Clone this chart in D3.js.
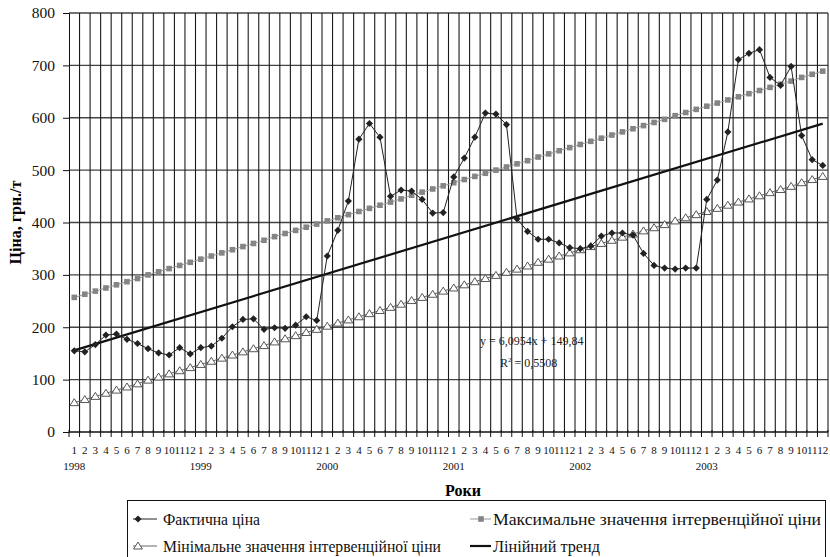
<!DOCTYPE html>
<html>
<head>
<meta charset="utf-8">
<script src="https://cdnjs.cloudflare.com/ajax/libs/d3/7.8.5/d3.min.js"></script>
<style>
body { margin: 0; background: #fff; }
svg { display: block; }
svg text { font-family: 'Liberation Serif', 'DejaVu Serif', serif; }
</style>
</head>
<body>
<div id="chart"></div>
<script>
// DATA
var years = ['1998', '1999', '2000', '2001', '2002', '2003'];
var monthLabels = ['1', '2', '3', '4', '5', '6', '7', '8', '9', '10', '11', '12'];
var yTicks = [0, 100, 200, 300, 400, 500, 600, 700, 800];

// actual price, грн./т
var actual = [
  155, 153, 167, 185, 187, 177, 169, 159, 151, 147, 161, 149,
  161, 164, 179, 201, 215, 216, 196, 199, 198, 204, 220, 213,
  336, 385, 441, 559, 589, 563, 450, 462, 460, 444, 418, 419,
  487, 523, 563, 609, 607, 587, 407, 383, 368, 368, 361, 352,
  350, 355, 374, 380, 380, 376, 341, 318, 313, 311, 313, 313,
  444, 481, 573, 711, 723, 730, 677, 662, 698, 566, 520, 509
];

// maximum intervention price
var maxPrice = [
  257, 263, 269, 275, 281, 287, 293, 300, 306, 312, 318, 324,
  330, 336, 342, 348, 354, 360, 366, 373, 379, 385, 391, 397,
  403, 409, 415, 421, 427, 433, 439, 445, 452, 458, 464, 470,
  476, 482, 488, 494, 500, 506, 512, 518, 525, 531, 537, 543,
  549, 555, 561, 567, 573, 579, 585, 591, 597, 604, 610, 616,
  622, 628, 634, 640, 646, 652, 658, 664, 670, 677, 683, 689
];

// minimum intervention price
var minPrice = [
  56, 62, 68, 74, 80, 86, 92, 99, 105, 111, 117, 123,
  129, 135, 141, 147, 153, 159, 165, 172, 178, 184, 190, 196,
  202, 208, 214, 220, 226, 232, 238, 244, 251, 257, 263, 269,
  275, 281, 287, 293, 299, 305, 311, 317, 324, 330, 336, 342,
  348, 354, 360, 366, 372, 378, 384, 390, 396, 403, 409, 415,
  421, 427, 433, 439, 445, 451, 457, 463, 469, 476, 482, 488
];

// linear trend y = 6,0954x + 149,84 (as printed on the chart)
var trendSlope = 6.0954, trendIntercept = 149.84;

var legendNames = ['Фактична ціна', 'Максимальне значення інтервенційної ціни',
                   'Мінімальне значення інтервенційної ціни', 'Лінійний тренд'];

// SET UP DIMENSIONS
var W = 830, H = 557;
var plot = { left: 69, right: 828, top: 13, bottom: 432 };
var FONT = "'Liberation Serif', 'DejaVu Serif', serif";

var n = actual.length;
var idx = d3.range(n);

var svg = d3.select('#chart').append('svg')
  .attr('width', W)
  .attr('height', H)
  .attr('font-family', FONT);

// SCALES
var x = d3.scaleBand()
  .domain(idx)
  .range([plot.left, plot.right])
  .padding(0);
var bw = x.bandwidth();
function cx(i) { return x(i) + bw / 2; }

var y = d3.scaleLinear()
  .domain([0, 800])
  .range([plot.bottom, plot.top]);

// GRIDLINES
svg.append('g').selectAll('line')
  .data(yTicks.slice(1))
  .enter().append('line')
  .attr('x1', plot.left).attr('x2', plot.right)
  .attr('y1', function(d) { return y(d); })
  .attr('y2', function(d) { return y(d); })
  .attr('stroke', '#444')
  .attr('stroke-width', 1.3);

// vertical lines at category boundaries
var bounds = d3.range(n + 1);
svg.append('g').selectAll('line')
  .data(bounds.slice(1))
  .enter().append('line')
  .attr('x1', function(i) { return plot.left + i * bw; })
  .attr('x2', function(i) { return plot.left + i * bw; })
  .attr('y1', plot.top).attr('y2', plot.bottom)
  .attr('stroke', '#1a1a1a')
  .attr('stroke-width', 1.1);

// AXES
var yAxis = d3.axisLeft(y)
  .tickValues(yTicks)
  .tickSize(6)
  .tickPadding(8);

var gy = svg.append('g')
  .attr('transform', 'translate(' + plot.left + ',0)')
  .call(yAxis)
  .attr('font-family', FONT);
gy.selectAll('text').attr('font-size', 15.5).attr('fill', '#111');
gy.selectAll('line, path').attr('stroke', '#111');

// bottom axis line with ticks at boundaries
svg.append('line')
  .attr('x1', plot.left).attr('x2', plot.right)
  .attr('y1', plot.bottom).attr('y2', plot.bottom)
  .attr('stroke', '#111').attr('stroke-width', 1.3);
svg.append('g').selectAll('line')
  .data(bounds)
  .enter().append('line')
  .attr('x1', function(i) { return plot.left + i * bw; })
  .attr('x2', function(i) { return plot.left + i * bw; })
  .attr('y1', plot.bottom - 2).attr('y2', plot.bottom + 5)
  .attr('stroke', '#111');

var monthAxis = d3.axisBottom(x)
  .tickSize(0)
  .tickPadding(14)
  .tickFormat(function(i) { return monthLabels[i % 12]; });
var gm = svg.append('g')
  .attr('transform', 'translate(0,' + plot.bottom + ')')
  .call(monthAxis)
  .attr('font-family', FONT);
gm.select('.domain').remove();
gm.selectAll('text').attr('font-size', 11).attr('fill', '#111');

var yearAxis = d3.axisBottom(x)
  .tickValues(years.map(function(d, k) { return k * 12; }))
  .tickSize(0)
  .tickPadding(30)
  .tickFormat(function(i) { return years[i / 12]; });
var gyr = svg.append('g')
  .attr('transform', 'translate(0,' + plot.bottom + ')')
  .call(yearAxis)
  .attr('font-family', FONT);
gyr.select('.domain').remove();
gyr.selectAll('text').attr('font-size', 11).attr('fill', '#111');

// AXIS TITLES
svg.append('text')
  .attr('transform', 'translate(21,' + ((plot.top + plot.bottom) / 2) + ') rotate(-90)')
  .attr('text-anchor', 'middle')
  .attr('font-size', 16)
  .attr('font-weight', 'bold')
  .text('Ціна, грн./т');

svg.append('text')
  .attr('x', 463).attr('y', 496)
  .attr('text-anchor', 'middle')
  .attr('font-size', 16)
  .attr('font-weight', 'bold')
  .text('Роки');

// MARKER SHAPES
function diamond(s) { return 'M0,' + (-s) + 'L' + s + ',0L0,' + s + 'L' + (-s) + ',0Z'; }
function square(s) { return 'M' + (-s) + ',' + (-s) + 'h' + (2 * s) + 'v' + (2 * s) + 'h' + (-2 * s) + 'Z'; }
function triangle(s) { return 'M0,' + (-s) + 'L' + (s * 1.1) + ',' + (s * 0.75) + 'L' + (-s * 1.1) + ',' + (s * 0.75) + 'Z'; }

var line = d3.line()
  .x(function(d, i) { return cx(i); })
  .y(function(d) { return y(d); });

// MIN SERIES
svg.append('path').datum(minPrice)
  .attr('d', line).attr('fill', 'none')
  .attr('stroke', '#666').attr('stroke-width', 1);
svg.append('g').selectAll('path')
  .data(minPrice).enter().append('path')
  .attr('transform', function(d, i) { return 'translate(' + cx(i) + ',' + y(d) + ')'; })
  .attr('d', triangle(4))
  .attr('fill', '#fff').attr('stroke', '#444').attr('stroke-width', 0.9);

// MAX SERIES
svg.append('path').datum(maxPrice)
  .attr('d', line).attr('fill', 'none')
  .attr('stroke', '#999').attr('stroke-width', 1);
svg.append('g').selectAll('path')
  .data(maxPrice).enter().append('path')
  .attr('transform', function(d, i) { return 'translate(' + cx(i) + ',' + y(d) + ')'; })
  .attr('d', square(2.8))
  .attr('fill', '#858585');

// TREND
svg.append('line')
  .attr('x1', cx(0)).attr('y1', y(trendSlope * 1 + trendIntercept))
  .attr('x2', cx(n - 1)).attr('y2', y(trendSlope * n + trendIntercept))
  .attr('stroke', '#111').attr('stroke-width', 2.2);

// ACTUAL SERIES
svg.append('path').datum(actual)
  .attr('d', line).attr('fill', 'none')
  .attr('stroke', '#222').attr('stroke-width', 1);
svg.append('g').selectAll('path')
  .data(actual).enter().append('path')
  .attr('transform', function(d, i) { return 'translate(' + cx(i) + ',' + y(d) + ')'; })
  .attr('d', diamond(3.6))
  .attr('fill', '#222');

// EQUATION LABEL
svg.append('text')
  .attr('x', 480).attr('y', 345)
  .attr('font-size', 12).attr('fill', '#222')
  .text('y = 6,0954x + 149,84');
var r2 = svg.append('text')
  .attr('x', 500).attr('y', 367)
  .attr('font-size', 12).attr('fill', '#222');
r2.append('tspan').text('R');
r2.append('tspan').attr('font-size', 7).attr('dy', -5).text('2');
r2.append('tspan').attr('dy', 5).text(' = 0,5508');

// LEGEND
svg.append('rect')
  .attr('x', 127.5).attr('y', 500.5)
  .attr('width', 698).attr('height', 70)
  .attr('fill', 'none').attr('stroke', '#111');

var legendItems = [
  { name: legendNames[0], x: 133, y: 519, kind: 'actual', len: 97 },
  { name: legendNames[1], x: 470, y: 519, kind: 'max', len: 328 },
  { name: legendNames[2], x: 133, y: 546, kind: 'min', len: 278 },
  { name: legendNames[3], x: 470, y: 546, kind: 'trend', len: 107 }
];

var lg = svg.append('g').selectAll('g')
  .data(legendItems).enter().append('g')
  .attr('transform', function(d) { return 'translate(' + d.x + ',' + d.y + ')'; });

lg.each(function(d) {
  var g = d3.select(this);
  if (d.kind === 'actual') {
    g.append('line').attr('x1', 0).attr('x2', 24).attr('stroke', '#222');
    g.append('path').attr('transform', 'translate(5,0)').attr('d', diamond(3.6)).attr('fill', '#222');
  } else if (d.kind === 'max') {
    g.append('line').attr('x1', 0).attr('x2', 21).attr('stroke', '#999');
    g.append('path').attr('transform', 'translate(11,0)').attr('d', square(2.8)).attr('fill', '#858585');
  } else if (d.kind === 'min') {
    g.append('line').attr('x1', 0).attr('x2', 24).attr('stroke', '#666');
    g.append('path').attr('transform', 'translate(5,0)').attr('d', triangle(4))
      .attr('fill', '#fff').attr('stroke', '#444').attr('stroke-width', 0.9);
  } else {
    g.append('line').attr('x1', 0).attr('x2', 21).attr('stroke', '#111').attr('stroke-width', 2.2);
  }
  g.append('text')
    .attr('x', d.kind === 'max' || d.kind === 'trend' ? 23 : 30)
    .attr('y', 5.5)
    .attr('font-size', 17)
    .attr('fill', '#111')
    .attr('textLength', d.len)
    .attr('lengthAdjust', 'spacingAndGlyphs')
    .text(d.name);
});
</script>
</body>
</html>
